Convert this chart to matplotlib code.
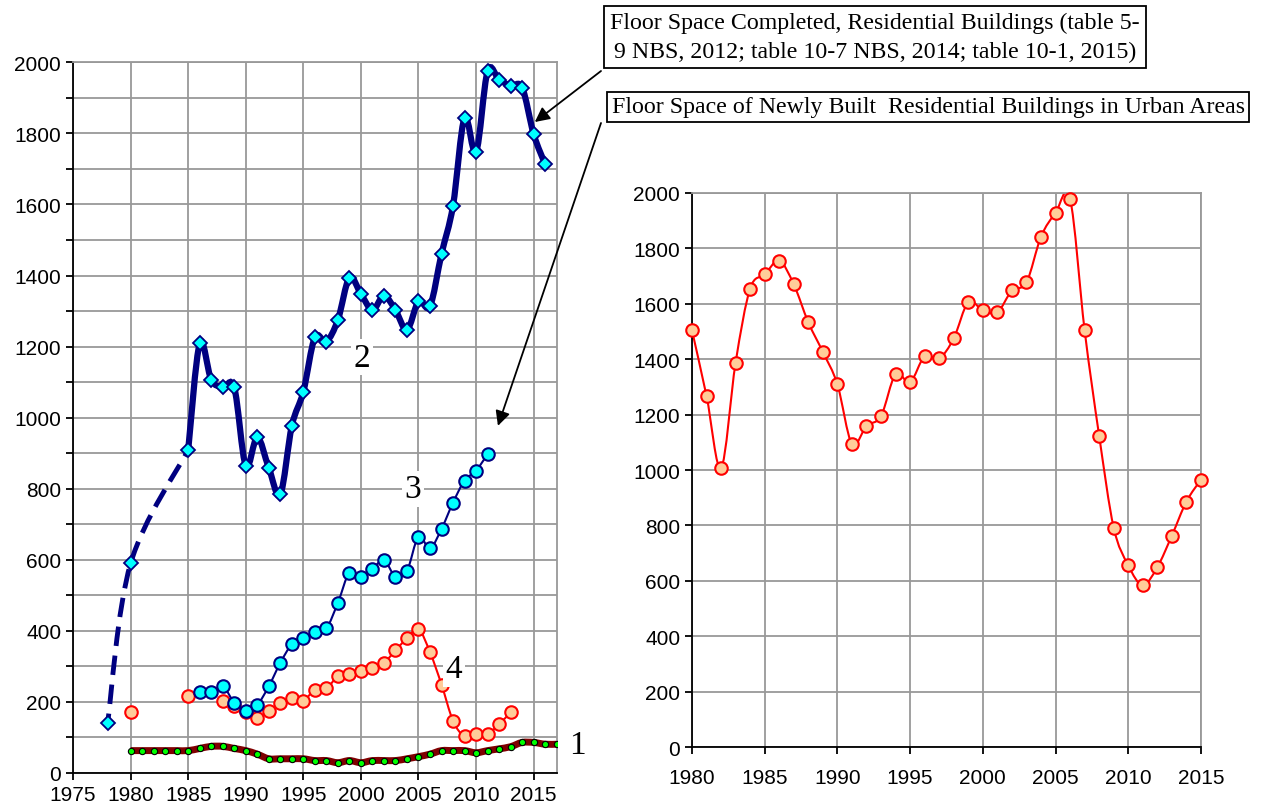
# %% Importing the libraries
import matplotlib.pyplot as plt
import numpy as np
from matplotlib.path import Path
from matplotlib.patches import PathPatch

# %% Data
# curve 2 - floor space completed, residential buildings
years_2_dash = [1978, 1980, 1985]
vals_2_dash = [140, 590, 909]
years_2 = list(range(1985, 2017))
vals_2 = [909, 1209, 1107, 1085, 1085, 864, 945, 859, 784, 977, 1073, 1226, 1214, 1275,
          1394, 1348, 1303, 1343, 1303, 1247, 1327, 1314, 1461, 1597, 1844, 1747, 1975,
          1951, 1934, 1929, 1798, 1713]

# curve 3 - newly built residential buildings in urban areas
years_3 = list(range(1986, 2012))
vals_3 = [227, 227, 244, 198, 175, 192, 244, 310, 362, 379, 396, 407, 479, 564, 553, 575,
          599, 553, 569, 665, 632, 687, 761, 823, 851, 897]

# curve 4
years_4_single = [1980, 1985]
vals_4_single = [171, 216]
years_4 = list(range(1988, 2014))
vals_4 = [204, 188, 171, 155, 175, 198, 210, 204, 234, 238, 272, 278, 288, 295, 310, 345,
          379, 405, 340, 249, 147, 103, 110, 110, 137, 171]

# curve 1
years_1 = list(range(1980, 2018))
vals_1 = [63, 63, 63, 63, 63, 63, 69, 75, 75, 69, 63, 53, 40, 40, 40, 40, 35, 35, 29, 35,
          29, 35, 35, 35, 40, 46, 53, 63, 63, 63, 57, 63, 68, 74, 86, 86, 81, 81]

# right panel
years_r = list(range(1980, 2016))
vals_r = [1504, 1267, 1007, 1388, 1655, 1706, 1756, 1670, 1533, 1426, 1309, 1094, 1159,
          1195, 1346, 1317, 1411, 1403, 1475, 1606, 1576, 1569, 1648, 1677, 1842, 1928,
          1979, 1505, 1124, 792, 656, 584, 649, 763, 886, 965]

box1_text = 'Floor Space Completed, Residential Buildings (table 5-\n9 NBS, 2012; table 10-7 NBS, 2014; table 10-1, 2015)'
box2_text = 'Floor Space of Newly Built  Residential Buildings in Urban Areas'

SERIF = 'Liberation Serif'
SANS = 'Liberation Sans'
GRID = '#999999'


# %% smoothed line (like excel "smoothed line")
def smooth_path(x, y):
    x = np.asarray(x, float)
    y = np.asarray(y, float)
    n = len(x)
    verts = [(x[0], y[0])]
    codes = [Path.MOVETO]
    for i in range(n - 1):
        j0 = max(i - 1, 0)
        j3 = min(i + 2, n - 1)
        c1 = (x[i] + (x[i + 1] - x[j0]) / 6, y[i] + (y[i + 1] - y[j0]) / 6)
        c2 = (x[i + 1] - (x[j3] - x[i]) / 6, y[i + 1] - (y[j3] - y[i]) / 6)
        verts += [c1, c2, (x[i + 1], y[i + 1])]
        codes += [Path.CURVE4] * 3
    return Path(verts, codes)


def style_axes(ax):
    for s in ['top', 'right']:
        ax.spines[s].set_color(GRID)
        ax.spines[s].set_linewidth(1.3)
    for s in ['left', 'bottom']:
        ax.spines[s].set_color('black')
        ax.spines[s].set_linewidth(1.3)
    ax.grid(True, color=GRID, lw=1.3)
    ax.set_axisbelow(True)
    ax.tick_params(direction='out', length=5, width=1.3, labelsize=15)
    for lab in ax.get_xticklabels() + ax.get_yticklabels():
        lab.set_fontfamily(SANS)


fig = plt.figure(figsize=(12.66, 8.12), dpi=100)

# %% Left chart
ax = fig.add_axes([0.0577, 0.0468, 0.382, 0.8752])
ax.set_xlim(1975, 2017)
ax.set_ylim(0, 2000)
ax.set_xticks(range(1975, 2016, 5))
ax.set_yticks(range(0, 2001, 100))
ax.set_yticklabels([str(v) if v % 200 == 0 else '' for v in range(0, 2001, 100)])
style_axes(ax)

# curve 1
ax.add_patch(PathPatch(smooth_path(years_1, vals_1), fill=False, edgecolor='#800000', lw=5))
ax.plot(years_1, vals_1, ls='none', marker='o', ms=4.5, mfc='#00ff00', mec='black', mew=0.8, zorder=3)

# curve 4
ax.add_patch(PathPatch(smooth_path(years_4, vals_4), fill=False, edgecolor='red', lw=1.5))
ax.plot(years_4, vals_4, ls='none', marker='o', ms=9, mfc='#ffcc99', mec='red', mew=1.5, zorder=3)
ax.plot(years_4_single, vals_4_single, ls='none', marker='o', ms=9, mfc='#ffcc99', mec='red', mew=1.5, zorder=3)

# curve 3
ax.add_patch(PathPatch(smooth_path(years_3, vals_3), fill=False, edgecolor='#000080', lw=1.5, zorder=3))
ax.plot(years_3, vals_3, ls='none', marker='o', ms=9, mfc='#00ffff', mec='#000080', mew=1.5, zorder=4)

# curve 2
ax.add_patch(PathPatch(smooth_path(years_2_dash, vals_2_dash), fill=False, edgecolor='#000080',
                       lw=3.5, ls=(2, (4, 2)), zorder=4))
ax.add_patch(PathPatch(smooth_path(years_2, vals_2), fill=False, edgecolor='#000080', lw=4.5, zorder=4))
ax.plot(years_2_dash + years_2[1:], vals_2_dash + vals_2[1:], ls='none', marker='D', ms=7.5,
        mfc='#00ffff', mec='#000080', mew=1.3, zorder=5)

# curve numbers
lab_box = dict(facecolor='white', edgecolor='none', pad=2)
ax.text(2000.1, 1170, '2', fontsize=24, family=SERIF, ha='center', va='center', bbox=lab_box, zorder=6)
ax.text(2004.5, 800, '3', fontsize=24, family=SERIF, ha='center', va='center', bbox=lab_box, zorder=6)
ax.text(2008.1, 293, '4', fontsize=24, family=SERIF, ha='center', va='center', bbox=lab_box, zorder=6)
ax.text(2018.8, 80, '1', fontsize=24, family=SERIF, ha='center', va='center', clip_on=False)

# %% Right chart
ax2 = fig.add_axes([0.5466, 0.0788, 0.402, 0.6823])
ax2.set_xlim(1980, 2015)
ax2.set_ylim(0, 2000)
ax2.set_xticks(range(1980, 2016, 5))
ax2.set_yticks(range(0, 2001, 200))
style_axes(ax2)
ax2.tick_params(axis='x', pad=10)
ax2.add_patch(PathPatch(smooth_path(years_r, vals_r), fill=False, edgecolor='red', lw=1.5))
ax2.plot(years_r, vals_r, ls='none', marker='o', ms=9, mfc='#ffcc99', mec='red', mew=1.5,
         zorder=3, clip_on=False)

# %% Annotation boxes and arrows
fig.text(875, 812 - 38, box1_text, transform=None, fontsize=17.2, family=SERIF,
         ha='center', va='center', linespacing=1.5,
         bbox=dict(boxstyle='square,pad=0.25', facecolor='white', edgecolor='black', lw=1.3))
fig.text(928, 812 - 108, box2_text, transform=None, fontsize=17.2, family=SERIF,
         ha='center', va='center',
         bbox=dict(boxstyle='square,pad=0.2', facecolor='white', edgecolor='black', lw=1.3))

arrow = dict(arrowstyle='-|>', color='black', lw=1.3, mutation_scale=22, shrinkA=0, shrinkB=0)
ax.annotate('', xy=(2015.1, 1832), xycoords='data', xytext=(601, 812 - 72),
            textcoords='figure pixels', arrowprops=arrow, annotation_clip=False)
ax.annotate('', xy=(2011.9, 977), xycoords='data', xytext=(601, 812 - 124),
            textcoords='figure pixels', arrowprops=arrow, annotation_clip=False)

plt.savefig('out.png', dpi=100)
